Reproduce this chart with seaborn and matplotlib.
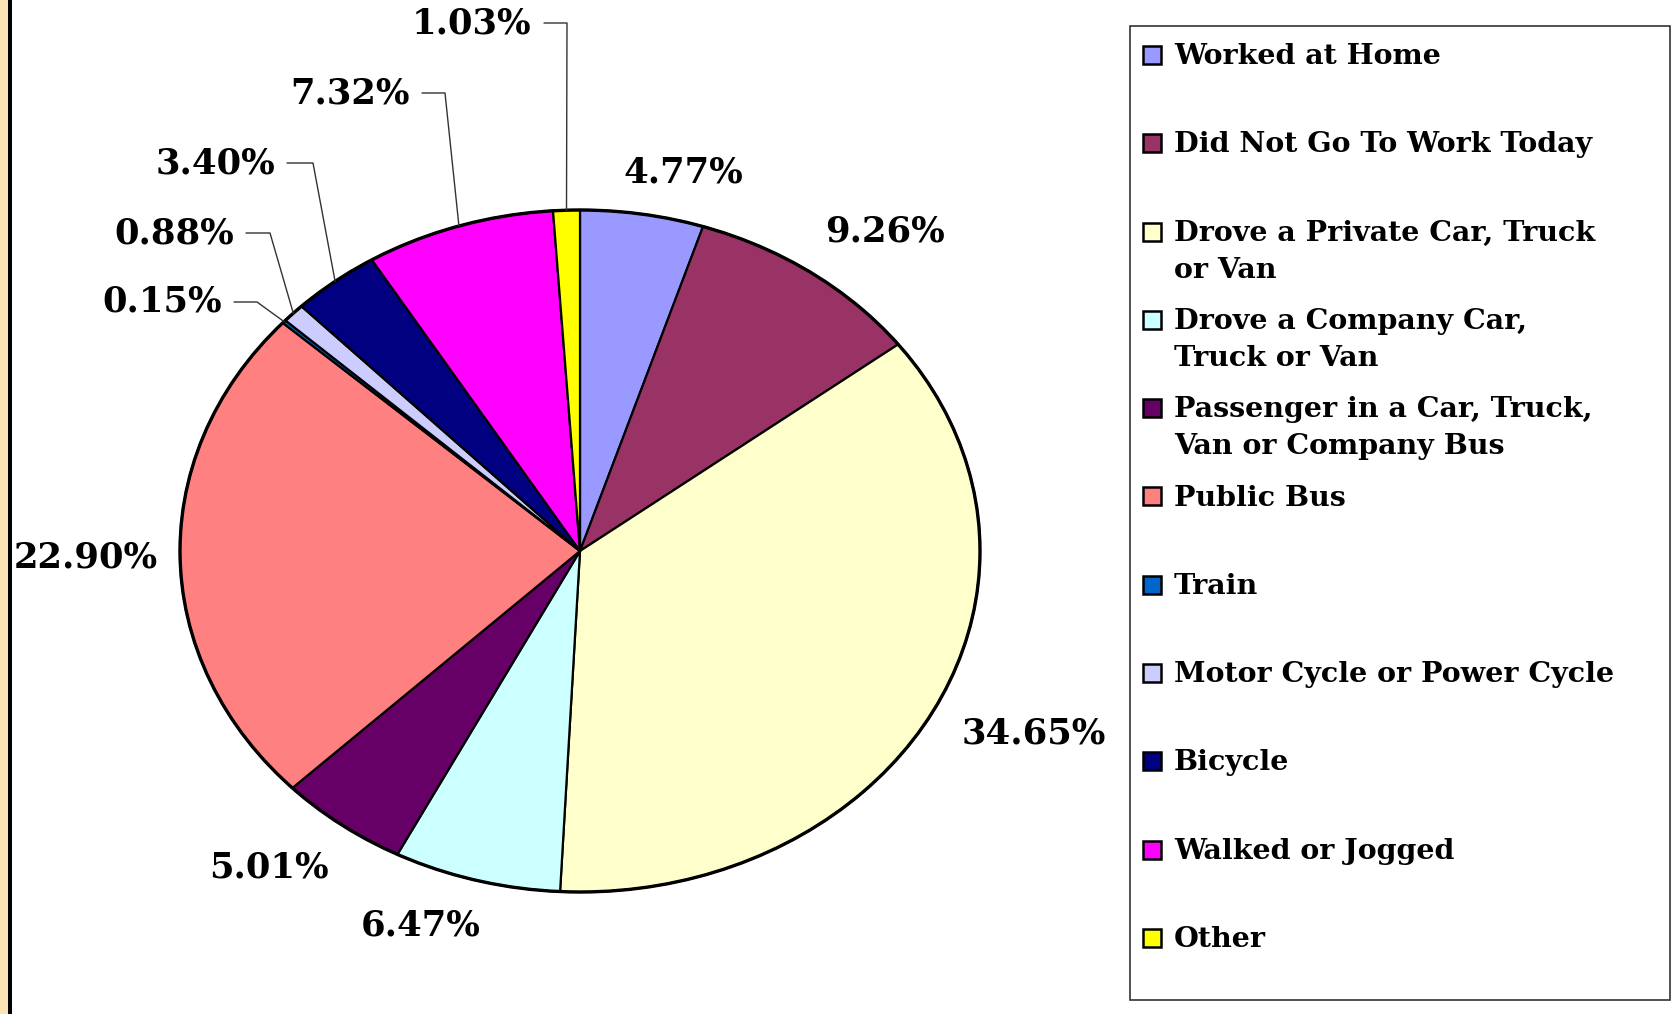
import matplotlib
matplotlib.use("Agg")
import matplotlib.pyplot as plt
from matplotlib.patches import Rectangle, Circle
import numpy as np
import seaborn as sns

# journey to work shares (%)
modes = ["Worked at Home", "Did Not Go To Work Today",
         "Drove a Private Car, Truck\nor Van", "Drove a Company Car,\nTruck or Van",
         "Passenger in a Car, Truck,\nVan or Company Bus", "Public Bus", "Train",
         "Motor Cycle or Power Cycle", "Bicycle", "Walked or Jogged", "Other"]
shares = [4.77, 9.26, 34.65, 6.47, 5.01, 22.90, 0.15, 0.88, 3.40, 7.32, 1.03]
mode_colors = ["#9999FF", "#993366", "#FFFFCC", "#CCFFFF", "#660066", "#FF8080",
               "#0066CC", "#CCCCFF", "#000080", "#FF00FF", "#FFFF00"]

# label layout in pixels (centre x, centre y, elbow x or None)
label_px = [(683, 172, None), (885, 232, None), (1034, 733, None), (421, 925, None),
            (269, 868, None), (86, 558, None), (162, 302, 257), (174, 233, 270),
            (215, 163, 313), (350, 93, 445), (472, 23, 567)]

sns.set_theme(style="white")
plt.rcParams["font.family"] = ["DejaVu Serif"]

W, H = 1678, 1014
CX, CY, RX, RY = 580, 551, 400, 341


def to_data(x, y):
    return (x - CX) / RX, (CY - y) / RY


fig = plt.figure(figsize=(W / 100, H / 100), dpi=100)
ax = fig.add_axes([0, 0, 1, 1])

wedges, _ = ax.pie(shares, colors=sns.color_palette(mode_colors), startangle=90,
                   counterclock=False,
                   wedgeprops=dict(edgecolor="black", linewidth=1.6))
ax.add_patch(Circle((0, 0), 1, fill=False, edgecolor="black", linewidth=2.4, zorder=5))
ax.set_aspect("auto")
ax.set_xlim(to_data(0, 0)[0], to_data(W, 0)[0])
ax.set_ylim(to_data(0, H)[1], to_data(0, 0)[1])
ax.axis("off")

for w, v, (lx, ly, ex) in zip(wedges, shares, label_px):
    tx, ty = to_data(lx, ly)
    ax.text(tx, ty, f"{v:.2f}%", ha="center", va="center", fontsize=25.5,
            fontweight="bold", color="black")
    if ex is not None:
        mid = np.deg2rad((w.theta1 + w.theta2) / 2)
        x0, _ = to_data(lx + 72, ly)
        x1, _ = to_data(ex, ly)
        ax.plot([x0, x1, np.cos(mid)], [ty, ty, np.sin(mid)], color="#333333",
                linewidth=1, zorder=6)

# left decorative strip and border
fig.patches.append(Rectangle((0, 0), 8 / W, 1, transform=fig.transFigure,
                             facecolor="#FBE3B4", edgecolor="none"))
fig.patches.append(Rectangle((8 / W, 0), 3.5 / W, 1, transform=fig.transFigure,
                             facecolor="black", edgecolor="none"))

# legend box drawn by hand so every entry keeps the same slot
fig.patches.append(Rectangle((1130 / W, 1 - 1000 / H), 540 / W, 974 / H,
                             transform=fig.transFigure, fill=False,
                             edgecolor="#333333", linewidth=1.2))
for i, (name, c) in enumerate(zip(modes, mode_colors)):
    y = 55 + i * 88.3
    fig.patches.append(Rectangle((1143 / W, 1 - (y + 9) / H), 18 / W, 18 / H,
                                 transform=fig.transFigure, facecolor=c,
                                 edgecolor="black", linewidth=1.8))
    for j, line in enumerate(name.split("\n")):
        fig.text(1174 / W, 1 - (y + 1.5 + j * 37) / H, line, ha="left", va="center",
                 fontsize=20.5, fontweight="bold", color="black")

fig.savefig("out.png", dpi=100, facecolor="white")
